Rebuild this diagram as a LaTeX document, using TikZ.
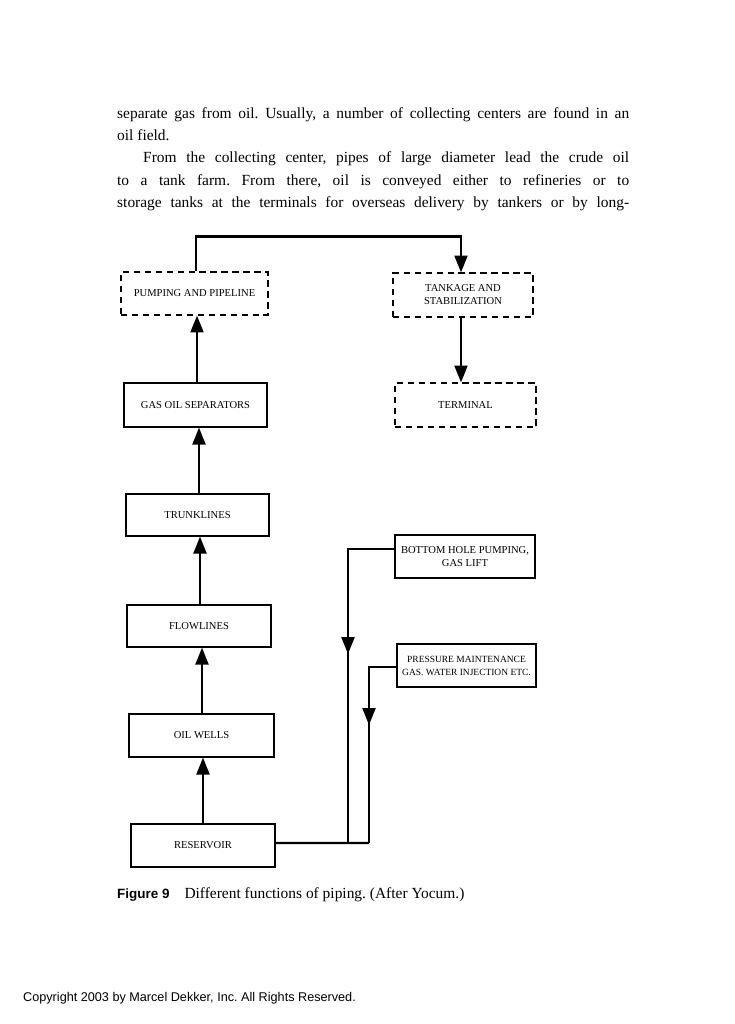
\documentclass[tikz,border=0pt]{standalone}
\usepackage{fontspec}
\setmainfont{Liberation Serif}
\setsansfont{Liberation Sans}
\usetikzlibrary{arrows.meta}
\begin{document}
\frenchspacing
\begin{tikzpicture}[x=1bp,y=-1bp,
  box/.style={draw,line width=1.2pt,inner sep=0pt,align=center,font=\fontsize{10.6}{13}\selectfont},
  dbox/.style={box,line width=1.1pt,dash pattern=on 6.5pt off 4.5pt},
  conn/.style={line width=2.2pt},
  tip/.style={conn,-{Triangle[length=17pt,width=13pt]}}]
\useasboundingbox (0,0) rectangle (735,1024);
% body text
\node[anchor=north west,inner sep=0pt,text width=512bp,align=justify,
  font=\fontsize{15.5}{22.5}\selectfont] (body) at (117,107) {%
  \noindent separate gas from oil. Usually, a number of collecting centers are found in an\linebreak oil field.\par
  \hspace*{26bp}From the collecting center, pipes of large diameter lead the crude oil\linebreak to a tank farm. From there, oil is conveyed either to refineries or to\linebreak storage tanks at the terminals for overseas delivery by tankers or by long-\parfillskip=0pt\par};
% boxes
\node[dbox,minimum width=147bp,minimum height=43bp] (pump) at (194.5,293.5) {PUMPING AND PIPELINE};
\node[dbox,minimum width=140bp,minimum height=44bp] (tank) at (463,295) {TANKAGE AND\\STABILIZATION};
\node[dbox,minimum width=141bp,minimum height=44bp] (term) at (465.5,405) {TERMINAL};
\node[box,minimum width=143bp,minimum height=44bp] (gos) at (195.5,405) {GAS OIL SEPARATORS};
\node[box,minimum width=143bp,minimum height=42bp] (trunk) at (197.5,515) {TRUNKLINES};
\node[box,minimum width=144bp,minimum height=42bp] (flow) at (199,626) {FLOWLINES};
\node[box,minimum width=145bp,minimum height=43bp] (wells) at (201.5,735.5) {OIL WELLS};
\node[box,minimum width=144bp,minimum height=43bp] (res) at (203,845.5) {RESERVOIR};
\node[box,minimum width=140bp,minimum height=43bp] (bhp) at (465,556.5) {BOTTOM HOLE PUMPING,\\GAS LIFT};
\node[box,minimum width=139bp,minimum height=43bp,font=\fontsize{9.5}{13}\selectfont] (pm) at (466.5,665.5) {PRESSURE MAINTENANCE\\GAS. WATER INJECTION ETC.};
% connectors
\draw[tip] ([xshift=1.5bp]pump.north) -- ++(0,-35) -| ([xshift=-2bp]tank.north);
\draw[tip] ([xshift=-2bp]tank.south) -- ([xshift=-2bp]tank.south |- term.north);
\draw[tip] ([xshift=1.5bp]gos.north) -- ([xshift=1.5bp]gos.north |- pump.south);
\draw[tip] ([xshift=1.5bp]trunk.north) -- ([xshift=1.5bp]trunk.north |- gos.south);
\draw[tip] ([xshift=1bp]flow.north) -- ([xshift=1bp]flow.north |- trunk.south);
\draw[tip] ([xshift=0.5bp]wells.north) -- ([xshift=0.5bp]wells.north |- flow.south);
\draw[tip] (res.north) -- (res.north |- wells.south);
\coordinate (bha) at (348,654);
\coordinate (bhx) at (348,843);
\coordinate (pma) at (369,725);
\coordinate (pmx) at (369,843);
\draw[conn] ([yshift=7.5bp]bhp.west) -| (bhx);
\draw[tip] ([yshift=12bp]bha) -- (bha);
\draw[conn] ([yshift=-1.5bp]pm.west) -| (pmx);
\draw[tip] ([yshift=12bp]pma) -- (pma);
\draw[conn] ([yshift=2.5bp]res.east) -- (pmx);
% caption
\node[anchor=base west,inner sep=0pt] (cap) at (117,898)
  {{\sffamily\bfseries\fontsize{13.5}{16}\selectfont Figure 9}\hspace{15bp}{\fontsize{15.5}{18}\selectfont Different functions of piping. (After Yocum.)}};
\node[anchor=base west,inner sep=0pt,font=\sffamily\fontsize{12.7}{15}\selectfont] (copy) at (23,1001)
  {Copyright 2003 by Marcel Dekker, Inc. All Rights Reserved.};
\end{tikzpicture}
\end{document}
